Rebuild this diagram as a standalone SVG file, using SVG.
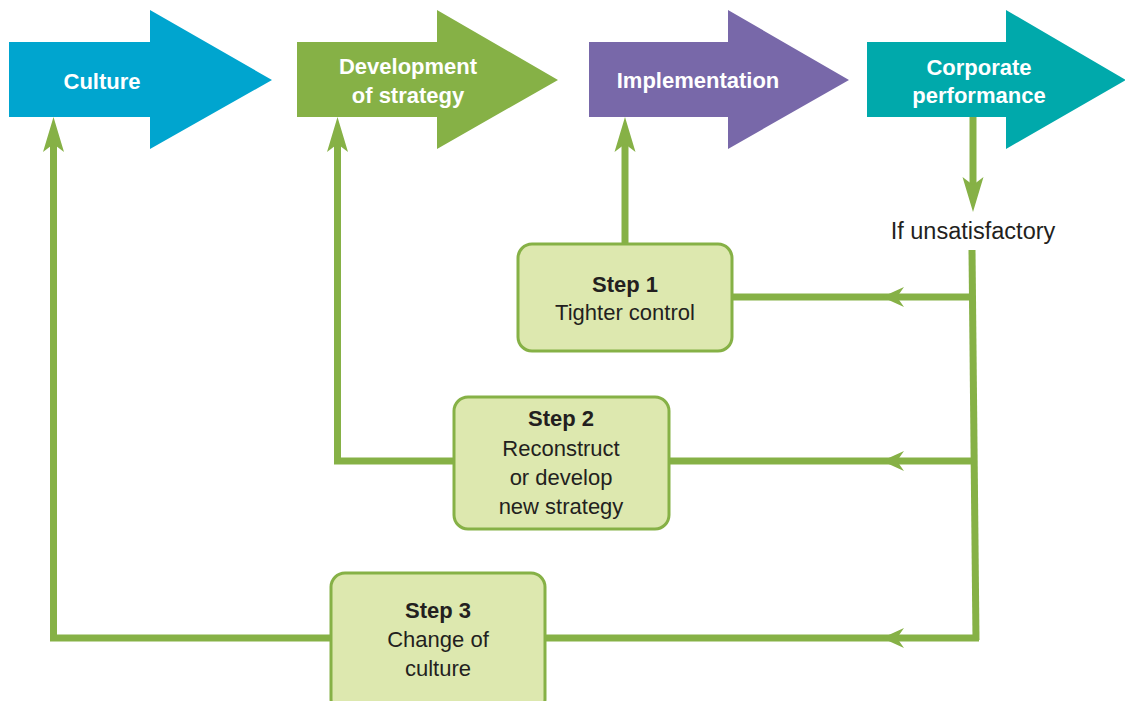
<svg xmlns="http://www.w3.org/2000/svg" width="1125" height="701" viewBox="0 0 1125 701">
  <style>
    .stage-label { font-family: "Liberation Sans", Arial, sans-serif; font-size: 22px; font-weight: bold; fill: #ffffff; text-anchor: middle; }
    .step-box { fill: #dde8af; stroke: #86b146; stroke-width: 3; }
    .step-text { font-family: "Liberation Sans", Arial, sans-serif; font-size: 22px; fill: #231f20; text-anchor: middle; }
    .step-title { font-weight: bold; }
    .flow { fill: none; stroke: #86b146; stroke-width: 7; stroke-linejoin: miter; stroke-linecap: butt; }
    .head { fill: #86b146; }
    .note { font-family: "Liberation Sans", Arial, sans-serif; font-size: 23.5px; fill: #231f20; text-anchor: middle; }
  </style>
  <defs>
    <!-- long swept arrowhead, tip at origin, pointing up -->
    <path id="head-long" d="M0,0 L10.5,35 L0,27 L-10.5,35 Z"/>
    <!-- short swept arrowhead, tip at origin, pointing left -->
    <path id="head-short" d="M0,0 L22,-10 L15,0 L22,10 Z"/>
  </defs>

  <rect width="1125" height="701" fill="#ffffff"/>

  <!-- stage arrows across the top -->
  <g id="culture">
    <path d="M9,42 H150 V10 L272,80 L150,149 V117 H9 Z" fill="#00a5cf"/>
    <text class="stage-label" x="102" y="89">Culture</text>
  </g>
  <g id="development">
    <path d="M297,42 H437 V10 L558,80 L437,149 V117 H297 Z" fill="#86b146"/>
    <text class="stage-label" x="408" y="74">Development</text>
    <text class="stage-label" x="408" y="103">of strategy</text>
  </g>
  <g id="implementation">
    <path d="M589,42 H728 V10 L849,80 L728,149 V117 H589 Z" fill="#7868a9"/>
    <text class="stage-label" x="698" y="88">Implementation</text>
  </g>
  <g id="performance">
    <path d="M867,42 H1006 V10 L1126,80 L1006,149 V117 H867 Z" fill="#00a9ab"/>
    <text class="stage-label" x="979" y="75">Corporate</text>
    <text class="stage-label" x="979" y="103">performance</text>
  </g>

  <!-- feedback connectors -->
  <g id="connectors">
    <line class="flow" x1="973" y1="117" x2="973" y2="190"/>
    <use href="#head-long" class="head" transform="translate(973,212) rotate(180)"/>
    <polyline class="flow" points="972,250 976,640"/>
    <line class="flow" x1="733" y1="297" x2="973" y2="297"/>
    <line class="flow" x1="669" y1="461" x2="974" y2="461"/>
    <line class="flow" x1="545" y1="638" x2="979" y2="638"/>
    <use href="#head-short" class="head" transform="translate(882,297)"/>
    <use href="#head-short" class="head" transform="translate(882,461)"/>
    <use href="#head-short" class="head" transform="translate(882,638)"/>
    <line class="flow" x1="625" y1="244" x2="625" y2="140"/>
    <use href="#head-long" class="head" transform="translate(625,117)"/>
    <polyline class="flow" points="454,461 337.5,461 337.5,140"/>
    <use href="#head-long" class="head" transform="translate(337.5,117)"/>
    <polyline class="flow" points="331,638 53.5,638 53.5,140"/>
    <use href="#head-long" class="head" transform="translate(53.5,117)"/>
    <text class="note" x="973" y="239">If unsatisfactory</text>
  </g>

  <!-- corrective steps -->
  <g id="step1">
    <rect class="step-box" x="518" y="244" width="214" height="107" rx="14"/>
    <text class="step-text step-title" x="625" y="292">Step 1</text>
    <text class="step-text" x="625" y="320">Tighter control</text>
  </g>
  <g id="step2">
    <rect class="step-box" x="454" y="397" width="215" height="132" rx="14"/>
    <text class="step-text step-title" x="561" y="426">Step 2</text>
    <text class="step-text" x="561" y="456">Reconstruct</text>
    <text class="step-text" x="561" y="485">or develop</text>
    <text class="step-text" x="561" y="514">new strategy</text>
  </g>
  <g id="step3">
    <rect class="step-box" x="331" y="573" width="214" height="140" rx="14"/>
    <text class="step-text step-title" x="438" y="618">Step 3</text>
    <text class="step-text" x="438" y="647">Change of</text>
    <text class="step-text" x="438" y="676">culture</text>
  </g>
</svg>
